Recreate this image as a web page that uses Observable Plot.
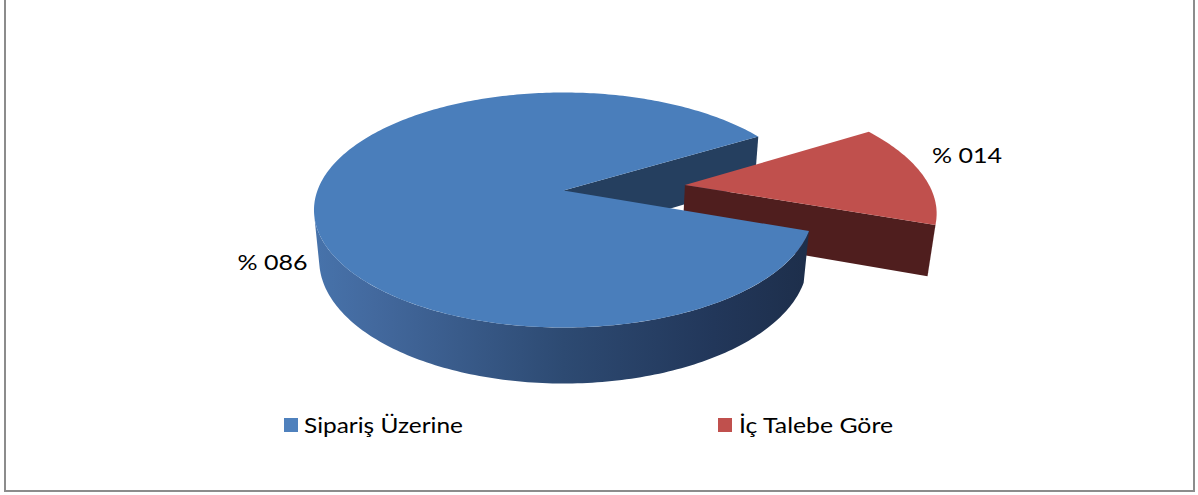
<!DOCTYPE html>
<html>
<head>
<meta charset="utf-8">
<script src="https://cdn.jsdelivr.net/npm/d3@7"></script>
<script src="https://cdn.jsdelivr.net/npm/@observablehq/plot@0.6"></script>
<style>
  html, body { margin: 0; padding: 0; background: #fff; }
  #wrap { position: relative; width: 1198px; height: 495px; overflow: hidden; font-family: Lato, "Open Sans", sans-serif; }
  #frame { position: absolute; left: 4px; top: -10px; width: 1191px; height: 502px; box-sizing: border-box; border: 2px solid #8c8c8c; }
  #chart { position: absolute; left: 0; top: 0; }
  #legend { position: absolute; left: 0; top: 0; width: 1198px; height: 495px; pointer-events: none; }
  .sw { position: absolute; width: 14px; height: 14px; }
  .lt { position: absolute; font-size: 22px; line-height: 22px; color: #000; white-space: nowrap; transform-origin: 0 0; }
</style>
</head>
<body>
<div id="wrap">
  <div id="frame"></div>
  <div id="chart"></div>
  <div id="legend"></div>
</div>
<script>
// ---------------- data ----------------
const categories = ["Sipariş Üzerine", "İç Talebe Göre"];
const shares = [86, 14];
const labels = ["% 086", "% 014"];
const exploded = [false, true];

// ---------------- styles / view options ----------------
const topColors = ["#4a7ebb", "#c0504d"];
const legendColors = ["#4f81bd", "#c0504d"];
const W = 1198, H = 405;
const CX = 563, CY = 190;          // pixel position of the pie centre
const FX = 1309, FY = 1295;        // projection scale (pixels per unit)
const TILT = 28 * Math.PI / 180;   // elevation of the view
const DIST = 5.32;                 // camera distance (radius units)
const THICK = 0.236;               // pie thickness (radius units)
const EXPLODE = 0.5;               // explosion distance (radius units)
const START = 19.6;                // first slice start angle (deg)
const sinA = Math.sin(TILT), cosA = Math.cos(TILT);
const rad = d => d * Math.PI / 180;

// perspective projection: X right, Z toward viewer, Y up
function project(X, Z, Y) {
  const yc = Z * sinA - Y * cosA;
  const d = DIST - Z * cosA - Y * sinA;
  return {u: X / d, v: yc / d};
}

const total = d3.sum(shares);
let acc = START;
const slices = shares.map((s, i) => {
  const a0 = acc, a1 = acc + s / total * 360;
  acc = a1;
  return {i, a0, a1, mid: (a0 + a1) / 2, off: exploded[i] ? EXPLODE : 0};
});

function offset(sl) {
  const m = rad(sl.mid);
  return [sl.off * Math.cos(m), sl.off * Math.sin(m)];
}
function slicePoint(sl, r, phi, Y) {
  const [ox, oz] = offset(sl), p = rad(phi);
  return project(ox + r * Math.cos(p), oz + r * Math.sin(p), Y);
}
function arcPts(sl, a0, a1, Y) {
  const n = Math.max(2, Math.ceil(Math.abs(a1 - a0)));
  return d3.range(n + 1).map(k => slicePoint(sl, 1, a0 + (a1 - a0) * k / n, Y));
}
// part of the outer wall that faces the camera
function visibleRange(sl) {
  const [ox, oz] = offset(sl);
  const cy = DIST * sinA, cz = DIST * cosA;
  const vis = phi => {
    const p = rad(phi), nx = Math.cos(p), nz = Math.sin(p);
    const px = ox + nx, pz = oz + nz, pyMid = -THICK / 2;
    return nx * (0 - px) + nz * (cz - pz) > 0;
  };
  let lo = null, hi = null;
  for (let a = sl.a0; a <= sl.a1 + 1e-9; a += 0.1) {
    if (vis(a)) { if (lo === null) lo = a; hi = a; }
  }
  return lo === null ? null : [lo, Math.min(hi + 0.1, sl.a1)];
}
const topFace = sl => [slicePoint(sl, 0, sl.a0, 0), ...arcPts(sl, sl.a0, sl.a1, 0)];
const outerWall = sl => {
  const r = visibleRange(sl);
  return r ? [...arcPts(sl, r[0], r[1], 0), ...arcPts(sl, r[1], r[0], -THICK)] : [];
};
const cutWall = (sl, a) => [slicePoint(sl, 0, a, 0), slicePoint(sl, 1, a, 0), slicePoint(sl, 1, a, -THICK), slicePoint(sl, 0, a, -THICK)];

const [blue, red] = slices;
const face = (pts, fill) => Plot.line(pts, {x: "u", y: "v", fill, stroke: "none", curve: "linear"});

const labelData = slices.map(sl => ({...slicePoint(sl, 1, sl.mid, 0), text: labels[sl.i]}));

const chart = Plot.plot({
  width: W,
  height: H,
  margin: 0,
  x: {domain: [-CX / FX, (W - CX) / FX], range: [0, W], axis: null},
  y: {domain: [-CY / FY, (H - CY) / FY], range: [0, H], axis: null},
  style: {background: "transparent", overflow: "visible"},
  marks: [
    face(cutWall(blue, blue.a1), "#253f5f"),
    face(outerWall(red), "#4d1d1d"),
    face(cutWall(red, red.a1), "#4f1e1e"),
    face(topFace(red), topColors[1]),
    face(outerWall(blue), "url(#blueWall)"),
    face(topFace(blue), topColors[0]),
    Plot.text([labelData[0]], {x: "u", y: "v", text: "text", textAnchor: "end", lineAnchor: "bottom",
      dx: -7, dy: 68, fontSize: 22, fontFamily: "Lato", fill: "#000"}),
    Plot.text([labelData[1]], {x: "u", y: "v", text: "text", textAnchor: "start", lineAnchor: "bottom",
      dx: 10, dy: -11, fontSize: 22, fontFamily: "Lato", fill: "#000"})
  ]
});

// gradient for the blue side wall
const xs = chart.scale("x");
const svg = d3.select(chart);
const grad = svg.insert("defs", ":first-child").append("linearGradient")
  .attr("id", "blueWall").attr("gradientUnits", "userSpaceOnUse")
  .attr("x1", xs.apply(-250 / FX)).attr("x2", xs.apply(250 / FX)).attr("y1", 0).attr("y2", 0);
[[0, "#4773ab"], [0.12, "#43699e"], [0.5, "#2d4a72"], [0.8, "#22375a"], [1, "#1d2e4a"]]
  .forEach(([o, c]) => grad.append("stop").attr("offset", o).attr("stop-color", c));

// stretch data labels to the reference widths
svg.selectAll('g[aria-label="text"] text').attr("textLength", 70).attr("lengthAdjust", "spacingAndGlyphs");

document.getElementById("chart").appendChild(chart);

// ---------------- legend (HTML, below the plot area) ----------------
const legend = document.getElementById("legend");
const swX = [283.5, 717.5], txX = [304, 739], txW = [159, 154];
categories.forEach((c, i) => {
  const sw = document.createElement("div");
  sw.className = "sw";
  sw.style.left = swX[i] + "px";
  sw.style.top = "418px";
  sw.style.background = legendColors[i];
  legend.appendChild(sw);
  const t = document.createElement("div");
  t.className = "lt";
  t.textContent = c;
  t.style.left = txX[i] + "px";
  t.style.top = "413.5px";
  legend.appendChild(t);
  const w = t.getBoundingClientRect().width;
  t.style.transform = `scaleX(${txW[i] / w})`;
});
</script>
</body>
</html>
